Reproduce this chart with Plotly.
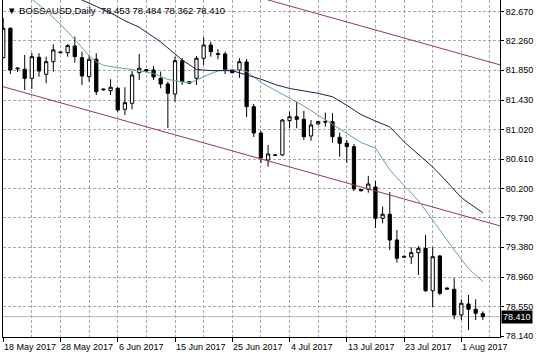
import plotly.graph_objects as go

# ---- data ----
bar_index = list(range(68))
open_ = [82.025, 82.435, 81.881, 81.863, 81.737, 82.031, 81.793, 81.969, 82.105, 82.095,
         82.188, 82.025, 81.760, 82.003, 81.588, 81.564, 81.598, 81.305, 81.388, 81.816,
         81.858, 81.853, 81.737, 81.658, 81.518, 81.983, 81.668, 81.737, 82.017, 82.202,
         82.081, 82.077, 81.853, 81.853, 81.965, 81.341, 80.974, 80.597, 80.667, 80.667,
         81.146, 81.201, 81.165, 80.932, 81.100, 81.134, 81.132, 80.914, 80.830, 80.783,
         80.185, 80.188, 80.220, 79.783, 79.839, 79.480, 79.253, 79.243, 79.303, 79.364,
         78.772, 79.257, 78.810, 78.792, 78.433, 78.587, 78.513, 78.453]
high = [82.579, 82.447, 81.888, 82.063, 82.091, 82.086, 82.039, 82.212, 82.114, 82.216,
        82.318, 82.109, 82.063, 82.086, 81.595, 81.723, 81.612, 81.612, 81.844, 82.077,
        81.867, 81.909, 81.830, 81.690, 82.039, 82.017, 81.700, 82.049, 82.310, 82.248,
        82.142, 82.109, 81.860, 82.017, 82.007, 81.379, 81.002, 80.806, 80.677, 81.169,
        81.271, 81.411, 81.285, 81.155, 81.141, 81.257, 81.253, 80.978, 80.876, 80.820,
        80.192, 80.374, 80.304, 79.945, 80.150, 79.620, 79.261, 79.378, 79.396, 79.550,
        79.378, 79.271, 78.817, 78.945, 78.652, 78.712, 78.652, 78.484]
low = [82.014, 81.797, 81.825, 81.574, 81.588, 81.760, 81.668, 81.830, 82.084, 82.039,
       81.955, 81.644, 81.690, 81.504, 81.567, 81.504, 81.271, 81.225, 81.305, 81.714,
       81.825, 81.714, 81.598, 81.044, 81.411, 81.644, 81.658, 81.644, 81.923, 82.039,
       82.003, 81.797, 81.804, 81.742, 81.197, 80.918, 80.555, 80.503, 80.653, 80.653,
       81.039, 81.039, 80.876, 80.866, 81.086, 81.062, 80.838, 80.643, 80.559, 80.164,
       80.157, 80.140, 79.648, 79.713, 79.341, 79.163, 79.229, 79.145, 78.992, 78.754,
       78.541, 78.712, 78.782, 78.373, 78.363, 78.224, 78.363, 78.362]
close = [82.435, 81.853, 81.871, 81.737, 82.039, 81.839, 81.969, 82.133, 82.095, 82.193,
         82.039, 81.770, 82.003, 81.550, 81.578, 81.612, 81.295, 81.397, 81.783, 81.877,
         81.839, 81.756, 81.658, 81.528, 81.983, 81.690, 81.690, 82.017, 82.202, 82.109,
         82.072, 81.853, 81.816, 81.969, 81.341, 80.974, 80.625, 80.681, 80.663, 81.155,
         81.201, 81.165, 80.922, 81.086, 81.132, 81.127, 80.922, 80.830, 80.783, 80.192,
         80.168, 80.262, 79.783, 79.839, 79.480, 79.225, 79.243, 79.303, 79.364, 78.772,
         79.247, 78.736, 78.796, 78.433, 78.597, 78.513, 78.457, 78.410]

teal_idx = [3, 4, 6, 8, 10, 12, 13, 14, 16, 18, 21, 23, 25, 26, 27, 28, 30, 31, 33, 34,
            36, 38, 40, 42, 45, 47, 50, 52, 53, 54, 56, 58, 61, 63, 65, 67]
teal_val = [82.98, 82.84, 82.68, 82.49, 82.28, 82.05, 81.97, 81.92, 81.885, 81.86, 81.805,
            81.72, 81.688, 81.676, 81.71, 81.76, 81.84, 81.853, 81.853, 81.835, 81.68,
            81.574, 81.46, 81.35, 81.16, 81.04, 80.84, 80.764, 80.62, 80.46, 80.24, 80.03,
            79.62, 79.34, 79.08, 78.90]

navy_idx = [10, 11, 13, 15, 17, 19, 22, 24, 25, 27, 29, 32, 34, 36, 38, 40, 44, 46, 48,
            50, 52, 54, 56, 58, 60, 62, 64, 67]
navy_val = [82.90, 82.83, 82.74, 82.65, 82.54, 82.45, 82.244, 82.07, 81.993, 81.86, 81.845,
            81.843, 81.785, 81.725, 81.65, 81.595, 81.527, 81.48, 81.36, 81.23, 81.14,
            81.06, 80.85, 80.67, 80.50, 80.29, 80.07, 79.86]

chan_idx = [-0.38, 69.45]
chan_lower = [81.630, 79.676]
chan_upper = [83.877, 81.923]

y_ticks = [82.670, 82.260, 81.850, 81.430, 81.020, 80.610, 80.200, 79.790, 79.380,
           78.960, 78.550, 78.140]
x_tick_idx = [0, 8, 16, 24, 32, 40, 48, 56, 64]
x_tick_labels = ["18 May 2017", "28 May 2017", "6 Jun 2017", "15 Jun 2017", "25 Jun 2017",
                 "4 Jul 2017", "13 Jul 2017", "23 Jul 2017", "1 Aug 2017"]
last_price = 78.410
title_text = "BOSSAUSD,Daily  78.453 78.484 78.362 78.410"

FONT = "Tahoma, 'Liberation Sans', Arial, sans-serif"
GRIDC = "#a8a8a8"

fig = go.Figure()

fig.add_trace(go.Scatter(x=chan_idx, y=chan_upper, mode="lines",
                         line=dict(color="#9a3a3e", width=1), hoverinfo="skip"))
fig.add_trace(go.Scatter(x=chan_idx, y=chan_lower, mode="lines",
                         line=dict(color="#9a3a3e", width=1), hoverinfo="skip"))
fig.add_trace(go.Scatter(x=teal_idx, y=teal_val, mode="lines",
                         line=dict(color="#62a39b", width=1), hoverinfo="skip"))
fig.add_trace(go.Scatter(x=navy_idx, y=navy_val, mode="lines",
                         line=dict(color="#1c1f4e", width=1), hoverinfo="skip"))

fig.add_trace(go.Candlestick(
    x=bar_index, open=open_, high=high, low=low, close=close,
    increasing=dict(line=dict(color="black", width=1), fillcolor="white"),
    decreasing=dict(line=dict(color="black", width=1), fillcolor="black"),
    whiskerwidth=0,
))

fig.add_hline(y=last_price, line=dict(color="#b4b4b4", width=1), layer="below")

grid = dict(showgrid=True, gridcolor=GRIDC, griddash="3px,2px", gridwidth=1)

fig.update_layout(
    width=536, height=357,
    margin=dict(l=3, r=36, t=0, b=20, autoexpand=False),
    paper_bgcolor="white", plot_bgcolor="white",
    showlegend=False, boxgap=0.35,
    font=dict(family=FONT, size=9, color="black"),
    xaxis=dict(
        range=[-0.03, 69.4], rangeslider=dict(visible=False),
        tickmode="array", tickvals=x_tick_idx, showticklabels=False,
        ticks="outside", ticklen=4, tickcolor="black",
        showline=True, linecolor="black", linewidth=1, zeroline=False,
        minor=dict(tickmode="array", tickvals=[i + 4 for i in x_tick_idx],
                   showgrid=True, gridcolor=GRIDC, griddash="3px,2px", ticks=""),
        **grid,
    ),
    yaxis=dict(
        range=[78.126, 82.830], side="right",
        tickmode="array", tickvals=y_ticks, ticktext=[f"{v:.3f}" for v in y_ticks],
        ticks="outside", ticklen=3, tickcolor="black",
        showline=True, mirror=True, linecolor="black", linewidth=1, zeroline=False,
        tickfont=dict(family=FONT, size=9, color="black"),
        **grid,
    ),
)

for idx, lab in zip(x_tick_idx, x_tick_labels):
    fig.add_annotation(x=idx, xref="x", y=-0.03, yref="paper", text=lab,
                       showarrow=False, xanchor="left", yanchor="middle", xshift=-1,
                       font=dict(family=FONT, size=9, color="black"))

fig.add_annotation(x=1, xref="paper", y=last_price, yref="y", text=f"{last_price:.3f}",
                   showarrow=False, xanchor="left", yanchor="middle", xshift=1,
                   bgcolor="black", borderpad=1,
                   font=dict(family=FONT, size=9, color="white"))

fig.add_annotation(x=0, xref="paper", y=1, yref="paper", text="▼ " + title_text,
                   showarrow=False, xanchor="left", yanchor="top", xshift=2, yshift=-3,
                   font=dict(family=FONT, size=9.5, color="black"))

fig.write_html("out.html")
